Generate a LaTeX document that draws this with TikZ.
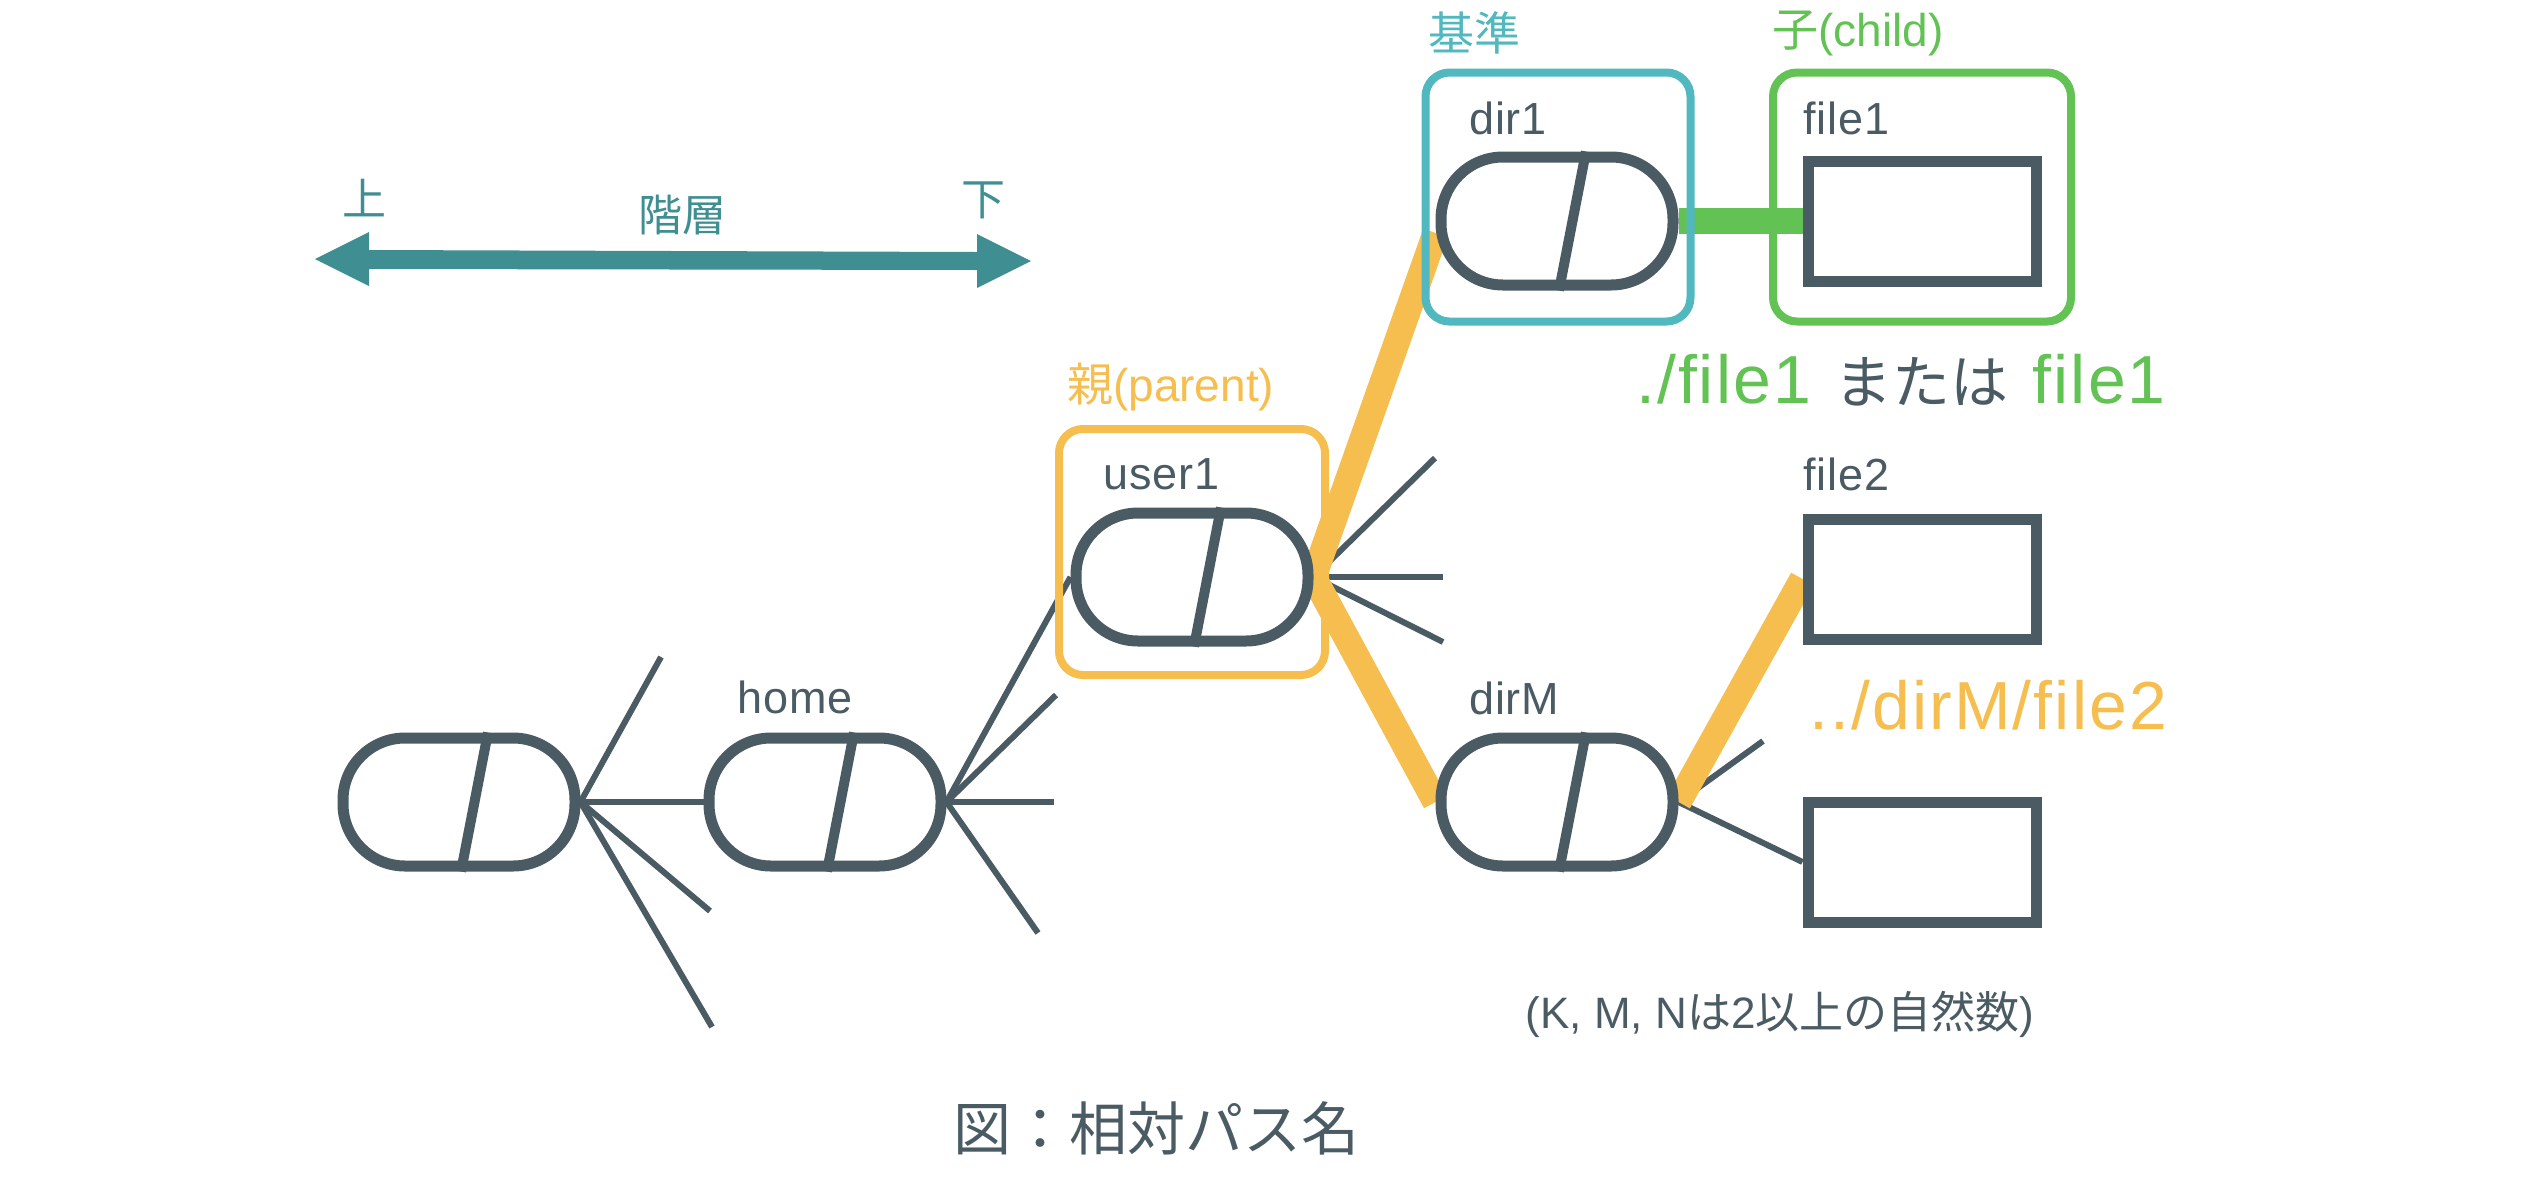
\documentclass[tikz,border=0pt]{standalone}
\usepackage{fontspec}
\setmainfont{Liberation Sans}
\newfontfamily\jpfont{Noto Sans CJK JP}
\newcommand\jtext[1]{{\jpfont #1}}
\definecolor{dk}{HTML}{4A5B63}
\definecolor{teal}{HTML}{3F8E92}
\definecolor{cyanc}{HTML}{52B8BF}
\definecolor{greenc}{HTML}{62C253}
\definecolor{orangec}{HTML}{F5BE4E}
\pgfdeclarelayer{bg}
\pgfsetlayers{bg,main}
\tikzset{
  capsule/.style={draw=dk, line width=11pt, fill=white, rounded corners=62pt,
    minimum width=232pt, minimum height=128pt, inner sep=0pt},
  filebox/.style={draw=dk, line width=11pt, fill=white,
    minimum width=228pt, minimum height=120pt, inner sep=0pt},
  grp/.style={draw=#1, line width=8pt, rounded corners=24pt, inner sep=0pt},
  slash/.style={draw=dk, line width=10pt},
  thinline/.style={draw=dk, line width=6pt},
  thickline/.style={draw=#1, line width=26pt},
  lbl/.style={text=dk, font=\fontsize{45}{54}\selectfont\addfontfeature{LetterSpace=2}, anchor=base west, inner sep=0pt},
  tag/.style={text=#1, font=\fontsize{46}{55}\selectfont, inner sep=0pt},
  big/.style={font=\fontsize{68}{80}\selectfont\addfontfeature{LetterSpace=3}, inner sep=0pt, anchor=base east},
  axis/.style={text=teal, font=\fontsize{44}{52}\selectfont\jpfont, inner sep=0pt}
}
\begin{document}
\begin{tikzpicture}[x=1pt,y=-1pt]
\useasboundingbox (0,0) rectangle (2536,1184);

% hierarchy arrow
\fill[teal] (315,259) -- (369,232) -- (369,250) -- (977,252) -- (977,234) -- (1031,261)
  -- (977,288) -- (977,270) -- (369,269) -- (369,286) -- cycle;
\node[axis] (up) at (364,198) {上};
\node[axis] (lv) at (682,215) {階層};
\node[axis] (down) at (983,200) {下};

% group boxes
\node[grp=cyanc, minimum width=265pt, minimum height=249pt] (gdir) at (1558,197) {};
\node[grp=greenc, minimum width=298pt, minimum height=249pt] (gfile) at (1922,197) {};
\node[grp=orangec, minimum width=266pt, minimum height=246pt] (guser) at (1192,552) {};

% capsules (directories)
\node[capsule] (c0) at (459,802) {};
\node[capsule] (home) at (825,802) {};
\node[capsule] (user) at (1192,577) {};
\node[capsule] (dir) at (1557,221) {};
\node[capsule] (dirM) at (1557,802) {};
\foreach \n in {c0,home,user,dir,dirM}
  \draw[slash] ([xshift=29pt]\n.north) -- ([xshift=2pt]\n.south);

% files
\node[filebox] (f1) at (1922,221) {};
\node[filebox] (f2) at (1922,579) {};
\node[filebox] (f3) at (1922,862) {};

% free ends
\coordinate (a1) at (661,657);
\coordinate (a2) at (710,911);
\coordinate (a3) at (712,1027);
\coordinate (b1) at (1056,695);
\coordinate (b2) at (1054,802);
\coordinate (b3) at (1038,933);
\coordinate (u1) at (1435,458);
\coordinate (u2) at (1443,577);
\coordinate (u3) at (1443,642);
\coordinate (m1) at (1763,741);

\begin{pgfonlayer}{bg}
  \draw[thinline] (c0.east) -- (a1);
  \draw[thinline] (c0.east) -- (home.west);
  \draw[thinline] (c0.east) -- (a2);
  \draw[thinline] (c0.east) -- (a3);
  \draw[thinline] (home.east) -- (user.west);
  \draw[thinline] (home.east) -- (b1);
  \draw[thinline] (home.east) -- (b2);
  \draw[thinline] (home.east) -- (b3);
  \draw[thinline] (user.east) -- (u1);
  \draw[thinline] (user.east) -- (u2);
  \draw[thinline] (user.east) -- (u3);
  \draw[thinline] (dirM.east) -- (m1);
  \draw[thinline] (dirM.east) -- (f3.west);
  \draw[thickline=orangec] (user.east) -- ([yshift=-12pt]dir.west);
  \draw[thickline=orangec] (user.east) -- (dirM.west);
  \draw[thickline=orangec] (dirM.east) -- (f2.west);
  \draw[thickline=greenc] (dir.east) -- (f1.west);
\end{pgfonlayer}

% labels
\node[lbl] (ldir) at (1469,134) {dir1};
\node[lbl] (lf1) at (1803,134) {file1};
\node[lbl] (luser) at (1103,489) {user1};
\node[lbl] (lhome) at (737,713) {home};
\node[lbl] (ldirM) at (1469,714) {dirM};
\node[lbl] (lf2) at (1803,490) {file2};

\node[tag=cyanc] (tbase) at (1474,33) {\jtext{基準}};
\node[tag=greenc, anchor=west] (tchild) at (1772,33) {\jtext{子}(child)};
\node[tag=orangec, anchor=west] (tparent) at (1067,387) {\jtext{親}(parent)};

\node[big] (rel1) at (2166,403) {\textcolor{greenc}{./file1}\hspace{24pt}\textcolor{dk}{\jtext{\fontsize{58}{68}\selectfont または}}\hspace{24pt}\textcolor{greenc}{file1}};
\node[big, text=orangec] (rel2) at (2167,729) {../dirM/file2};

\node[text=dk, font=\fontsize{44}{52}\selectfont, inner sep=0pt] (note) at (1780,1014)
  {(K, M, N\jtext{は}2\jtext{以上の自然数})};
\node[text=dk, font=\fontsize{58}{68}\selectfont\jpfont, inner sep=0pt] (cap) at (1156,1128)
  {図：相対パス名};
\end{tikzpicture}
\end{document}
